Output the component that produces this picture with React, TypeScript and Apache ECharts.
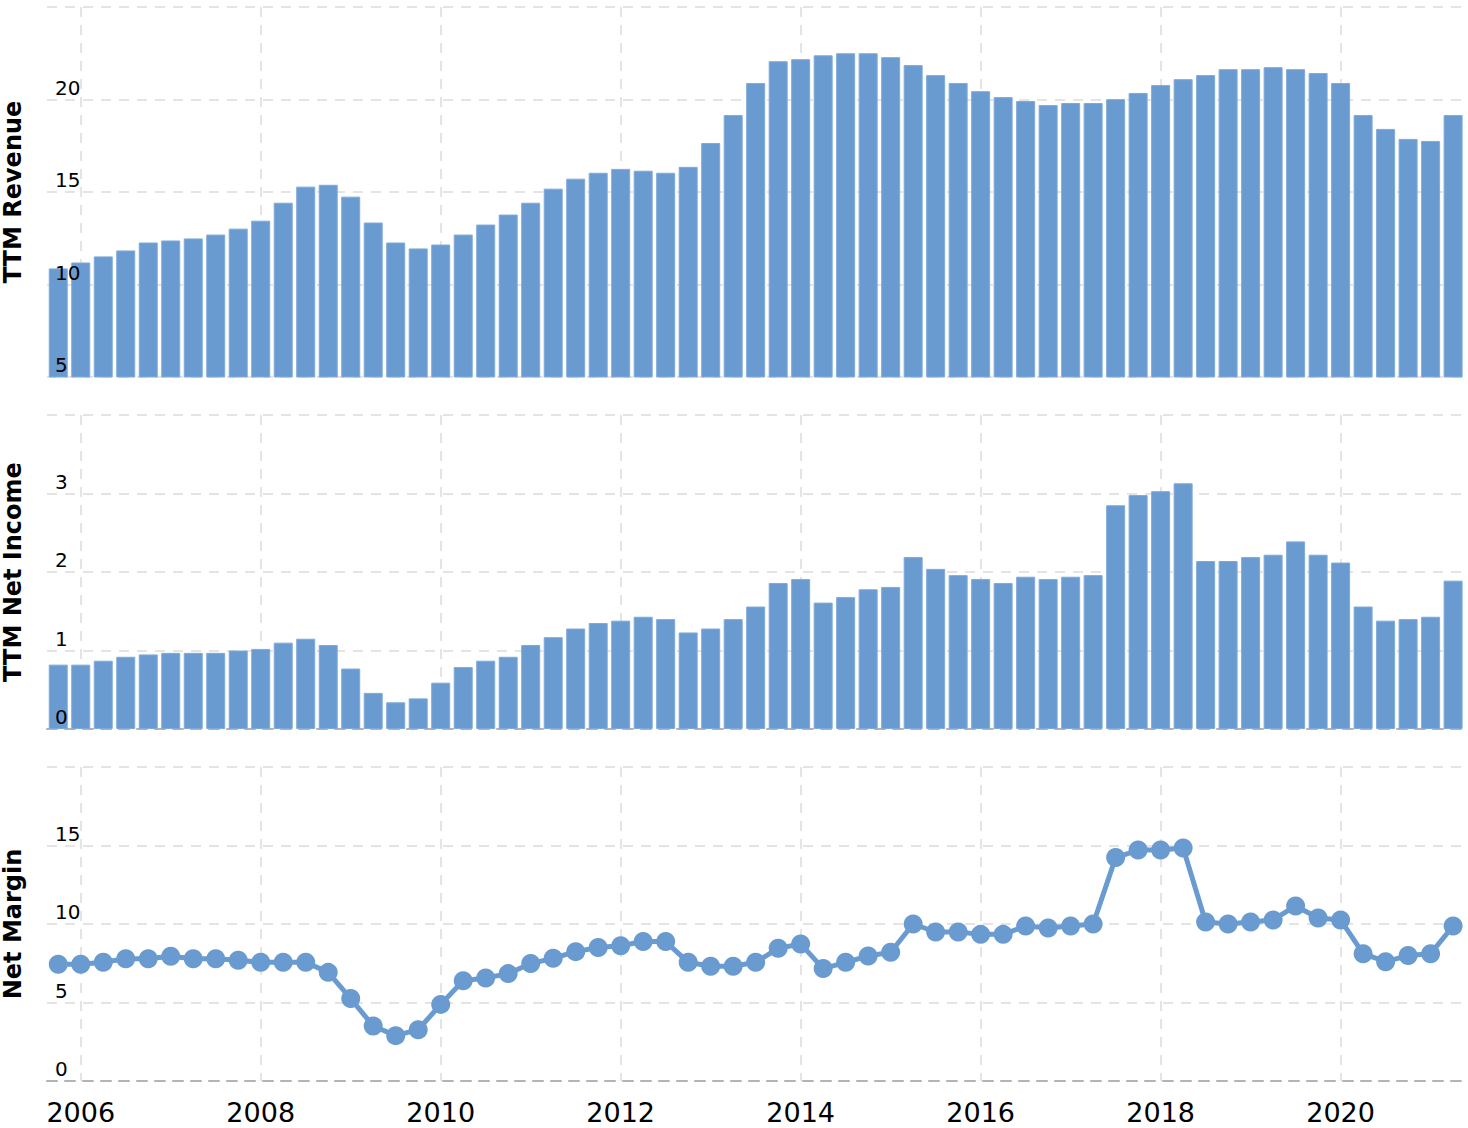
import React, { useEffect, useRef } from 'react';
import * as echarts from 'echarts';

const quarters = [
  '2005-09-30', '2005-12-31',
  '2006-03-31', '2006-06-30', '2006-09-30', '2006-12-31',
  '2007-03-31', '2007-06-30', '2007-09-30', '2007-12-31',
  '2008-03-31', '2008-06-30', '2008-09-30', '2008-12-31',
  '2009-03-31', '2009-06-30', '2009-09-30', '2009-12-31',
  '2010-03-31', '2010-06-30', '2010-09-30', '2010-12-31',
  '2011-03-31', '2011-06-30', '2011-09-30', '2011-12-31',
  '2012-03-31', '2012-06-30', '2012-09-30', '2012-12-31',
  '2013-03-31', '2013-06-30', '2013-09-30', '2013-12-31',
  '2014-03-31', '2014-06-30', '2014-09-30', '2014-12-31',
  '2015-03-31', '2015-06-30', '2015-09-30', '2015-12-31',
  '2016-03-31', '2016-06-30', '2016-09-30', '2016-12-31',
  '2017-03-31', '2017-06-30', '2017-09-30', '2017-12-31',
  '2018-03-31', '2018-06-30', '2018-09-30', '2018-12-31',
  '2019-03-31', '2019-06-30', '2019-09-30', '2019-12-31',
  '2020-03-31', '2020-06-30', '2020-09-30', '2020-12-31',
  '2021-03-31',
];

const revenue = [
  10.87, 11.19, 11.52, 11.84, 12.27, 12.38, 12.49, 12.70, 13.02, 13.45,
  14.42, 15.29, 15.39, 14.75, 13.35, 12.27, 11.95, 12.16, 12.70, 13.24,
  13.78, 14.42, 15.18, 15.72, 16.04, 16.25, 16.15, 16.04, 16.36, 17.65,
  19.16, 20.89, 22.07, 22.18, 22.39, 22.50, 22.50, 22.29, 21.86, 21.32,
  20.89, 20.45, 20.13, 19.92, 19.70, 19.81, 19.81, 20.02, 20.35, 20.78,
  21.10, 21.32, 21.64, 21.64, 21.75, 21.64, 21.43, 20.89, 19.16, 18.41,
  17.87, 17.76, 19.16,
];

const netIncome = [
  0.82, 0.82, 0.87, 0.92, 0.95, 0.97, 0.97, 0.97, 1.00, 1.02,
  1.10, 1.15, 1.07, 0.77, 0.46, 0.34, 0.39, 0.59, 0.79, 0.87,
  0.92, 1.07, 1.17, 1.28, 1.35, 1.38, 1.43, 1.40, 1.23, 1.28,
  1.40, 1.56, 1.86, 1.91, 1.61, 1.68, 1.78, 1.81, 2.19, 2.04,
  1.96, 1.91, 1.86, 1.94, 1.91, 1.94, 1.96, 2.85, 2.98, 3.03,
  3.13, 2.14, 2.14, 2.19, 2.22, 2.39, 2.22, 2.12, 1.56, 1.38,
  1.40, 1.43, 1.89,
];

const netMargin = [
  7.43, 7.43, 7.56, 7.79, 7.79, 7.94, 7.79, 7.79, 7.69, 7.56,
  7.56, 7.56, 6.92, 5.25, 3.50, 2.89, 3.27, 4.88, 6.39, 6.56,
  6.84, 7.48, 7.82, 8.24, 8.50, 8.62, 8.88, 8.88, 7.56, 7.31,
  7.31, 7.56, 8.45, 8.73, 7.16, 7.56, 7.96, 8.20, 10.00, 9.49,
  9.49, 9.34, 9.34, 9.87, 9.75, 9.87, 10.00, 14.23, 14.71, 14.71,
  14.84, 10.13, 10.00, 10.13, 10.26, 11.15, 10.38, 10.26, 8.11, 7.60,
  7.99, 8.11, 9.87,
];

const panelTitles = ['TTM Revenue', 'TTM Net Income', 'Net Margin'];
const panelMin = [5, 0, 0];
const panelMax = [25, 4, 20];
const panelStep = [5, 1, 5];

const toYear = (d: string) => {
  const [y, m] = d.split('-').map(Number);
  return y + m / 12;
};

const COLOR = '#6a9bd0';
const FONT = 'DejaVu Sans';
const X_MIN = 2005.625;
const X_MAX = 2021.36;

const gridLine = {
  show: true,
  lineStyle: { color: '#e4e4e4', width: 2, type: [10, 8] as number[] },
};

export default function App() {
  const ref = useRef<HTMLDivElement>(null);

  useEffect(() => {
    if (!ref.current) return;
    const chart = echarts.init(ref.current, null, { renderer: 'svg' });

    const grids = [
      { left: 47, width: 1416, top: 7, height: 370 },
      { left: 47, width: 1416, top: 415, height: 314 },
      { left: 47, width: 1416, top: 767, height: 314 },
    ].map((g) => ({ ...g, containLabel: false, outerBoundsMode: 'none' }));

    const xAxes = [0, 1, 2].map((i) => ({
      type: 'value',
      gridIndex: i,
      min: X_MIN,
      max: X_MAX,
      splitNumber: 8,
      minInterval: 2,
      maxInterval: 2,
      axisTick: { show: false },
      axisLine: {
        show: i > 0,
        onZero: false,
        lineStyle: { color: '#b3b3b3', width: 2, type: [10, 8] },
      },
      axisLabel:
        i === 2
          ? {
              show: true,
              fontSize: 27,
              color: '#000',
              fontFamily: FONT,
              margin: 18,
              showMinLabel: false,
              showMaxLabel: false,
              formatter: (v: number) =>
                Math.abs(v - Math.round(v)) < 1e-6 ? String(Math.round(v)) : '',
            }
          : { show: false },
      splitLine: { ...gridLine, showMinLine: false, showMaxLine: false },
    }));

    const yAxes: any[] = [];
    [0, 1, 2].forEach((i) => {
      yAxes.push({
        type: 'value',
        gridIndex: i,
        position: 'left',
        min: panelMin[i],
        max: panelMax[i],
        interval: panelStep[i],
        axisLine: { show: false },
        axisTick: { show: false },
        axisLabel: { show: false },
        splitLine: gridLine,
        name: panelTitles[i],
        nameLocation: 'middle',
        nameGap: 22,
        nameTextStyle: { fontSize: 24, fontWeight: 'bold', fontFamily: FONT, color: '#000' },
      });
      yAxes.push({
        type: 'value',
        gridIndex: i,
        position: 'left',
        z: 10,
        min: panelMin[i],
        max: panelMax[i],
        interval: panelStep[i],
        axisLine: { show: false },
        axisTick: { show: false },
        splitLine: { show: false },
        axisLabel: {
          inside: true,
          margin: 8,
          verticalAlign: 'bottom',
          padding: [0, 0, 2, 0],
          fontSize: 20,
          color: '#000',
          fontFamily: FONT,
          showMaxLabel: false,
        },
      });
    });

    const xs = quarters.map(toYear);

    chart.setOption({
      animation: false,
      textStyle: { fontFamily: FONT },
      grid: grids,
      xAxis: xAxes,
      yAxis: yAxes,
      series: [
        {
          type: 'bar',
          xAxisIndex: 0,
          yAxisIndex: 0,
          barWidth: 19,
          itemStyle: { color: COLOR, borderColor: '#7eaadb', borderWidth: 1 },
          data: xs.map((x, i) => [x, revenue[i]]),
        },
        {
          type: 'bar',
          xAxisIndex: 1,
          yAxisIndex: 2,
          barWidth: 19,
          itemStyle: { color: COLOR, borderColor: '#7eaadb', borderWidth: 1 },
          data: xs.map((x, i) => [x, netIncome[i]]),
        },
        {
          type: 'line',
          xAxisIndex: 2,
          yAxisIndex: 4,
          symbol: 'circle',
          symbolSize: 19,
          showAllSymbol: true,
          lineStyle: { color: COLOR, width: 5 },
          itemStyle: { color: COLOR },
          data: xs.map((x, i) => [x, netMargin[i]]),
        },
      ],
    });

    return () => chart.dispose();
  }, []);

  return (
    <div
      ref={ref}
      style={{ position: 'absolute', left: 0, top: 0, width: 1468, height: 1128 }}
    />
  );
}
